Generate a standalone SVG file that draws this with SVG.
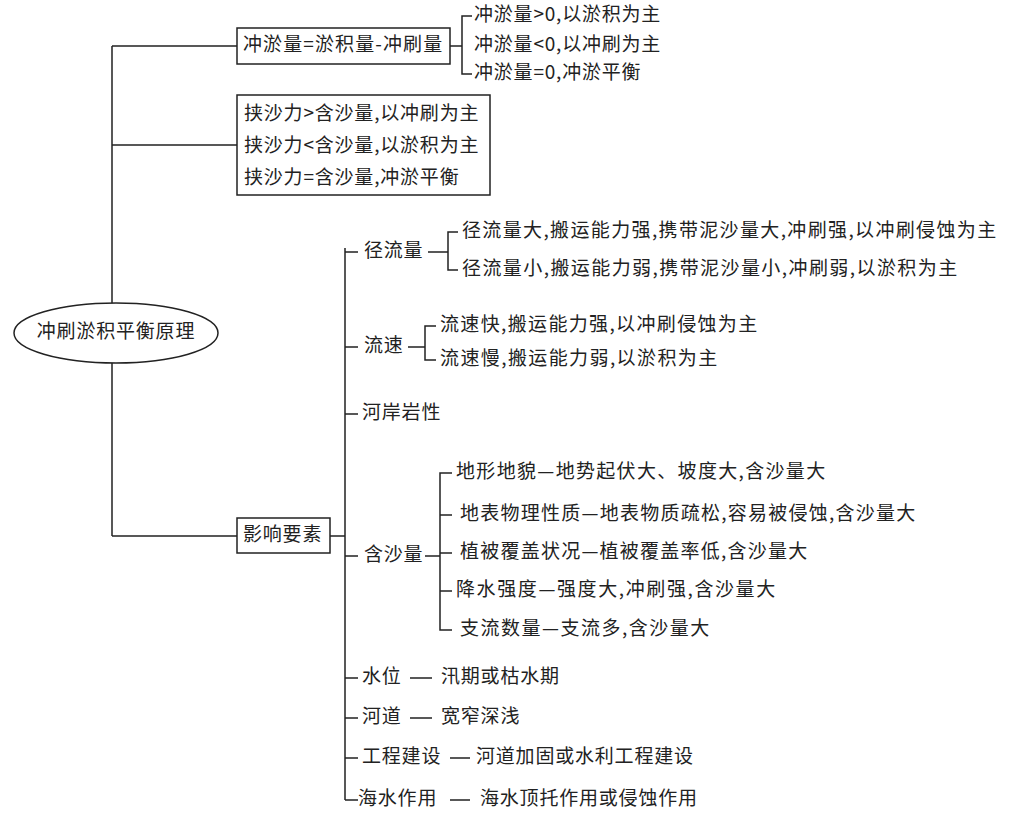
<svg xmlns="http://www.w3.org/2000/svg" width="1010" height="819" viewBox="0 0 1010 819">
<style>
text{font-family:"Noto Sans CJK SC","Liberation Serif",serif;font-size:19px;letter-spacing:0.8px;fill:#222;dominant-baseline:middle}
.l{stroke:#222;stroke-width:1.5;fill:none}
.b{stroke:#222;stroke-width:1.5;fill:#fff}
</style>
<rect width="1010" height="819" fill="#fff"/>
<g id="connectors" class="l">
<path d="M112 46V536M112 46H237M112 145H237M112 536H237"/>
<path d="M450 46H462M472 16H462V74H472"/>
<path d="M330 536H345M345 248V800M345 252H358M345 347H358M345 414H358M345 556H358M345 678H358M345 718H358M345 758H358M345 800H358"/>
<path d="M428 252H448M458 232H448V270H458"/>
<path d="M408 347H425M436 326H425V360H436"/>
<path d="M425 556H440M452 473H440V630H452M440 515H452M440 553H452M440 591H452"/>
<path d="M410 678H432M410 718H432M450 758H470M450 800H470"/>
</g>
<g id="root"><ellipse class="b" cx="116" cy="333" rx="102" ry="30"/><text x="116" y="333" text-anchor="middle">冲刷淤积平衡原理</text></g>
<g id="n1"><rect class="b" x="237" y="28" width="213" height="36"/><text x="243" y="46" textLength="200">冲淤量=淤积量-冲刷量</text></g>
<g id="n1a"><text x="474" y="16">冲淤量&gt;0,以淤积为主</text><text x="474" y="46">冲淤量&lt;0,以冲刷为主</text><text x="474" y="74">冲淤量=0,冲淤平衡</text></g>
<g id="n2"><rect class="b" x="237" y="95" width="253" height="100"/><text x="244" y="115">挟沙力&gt;含沙量,以冲刷为主</text><text x="244" y="147">挟沙力&lt;含沙量,以淤积为主</text><text x="244" y="179">挟沙力=含沙量,冲淤平衡</text></g>
<g id="n3"><rect class="b" x="237" y="518" width="93" height="35"/><text x="243" y="536">影响要素</text></g>
<g id="f1"><text x="364" y="252">径流量</text><text x="462" y="232" textLength="535">径流量大,搬运能力强,携带泥沙量大,冲刷强,以冲刷侵蚀为主</text><text x="462" y="270" textLength="496">径流量小,搬运能力弱,携带泥沙量小,冲刷弱,以淤积为主</text></g>
<g id="f2"><text x="364" y="347">流速</text><text x="440" y="326" textLength="318">流速快,搬运能力强,以冲刷侵蚀为主</text><text x="440" y="360" textLength="278">流速慢,搬运能力弱,以淤积为主</text></g>
<g id="f3"><text x="362" y="414">河岸岩性</text></g>
<g id="f4"><text x="456" y="473" textLength="370">地形地貌—地势起伏大、坡度大,含沙量大</text><text x="364" y="556">含沙量</text><text x="460" y="515" textLength="456">地表物理性质—地表物质疏松,容易被侵蚀,含沙量大</text><text x="460" y="553" textLength="348">植被覆盖状况—植被覆盖率低,含沙量大</text><text x="456" y="591" textLength="320">降水强度—强度大,冲刷强,含沙量大</text><text x="460" y="630" textLength="250">支流数量—支流多,含沙量大</text></g>
<g id="f5"><text x="362" y="678">水位</text><text x="441" y="678">汛期或枯水期</text></g>
<g id="f6"><text x="362" y="718">河道</text><text x="441" y="718">宽窄深浅</text></g>
<g id="f7"><text x="362" y="758">工程建设</text><text x="476" y="758">河道加固或水利工程建设</text></g>
<g id="f8"><text x="358" y="800">海水作用</text><text x="480" y="800">海水顶托作用或侵蚀作用</text></g>
</svg>
